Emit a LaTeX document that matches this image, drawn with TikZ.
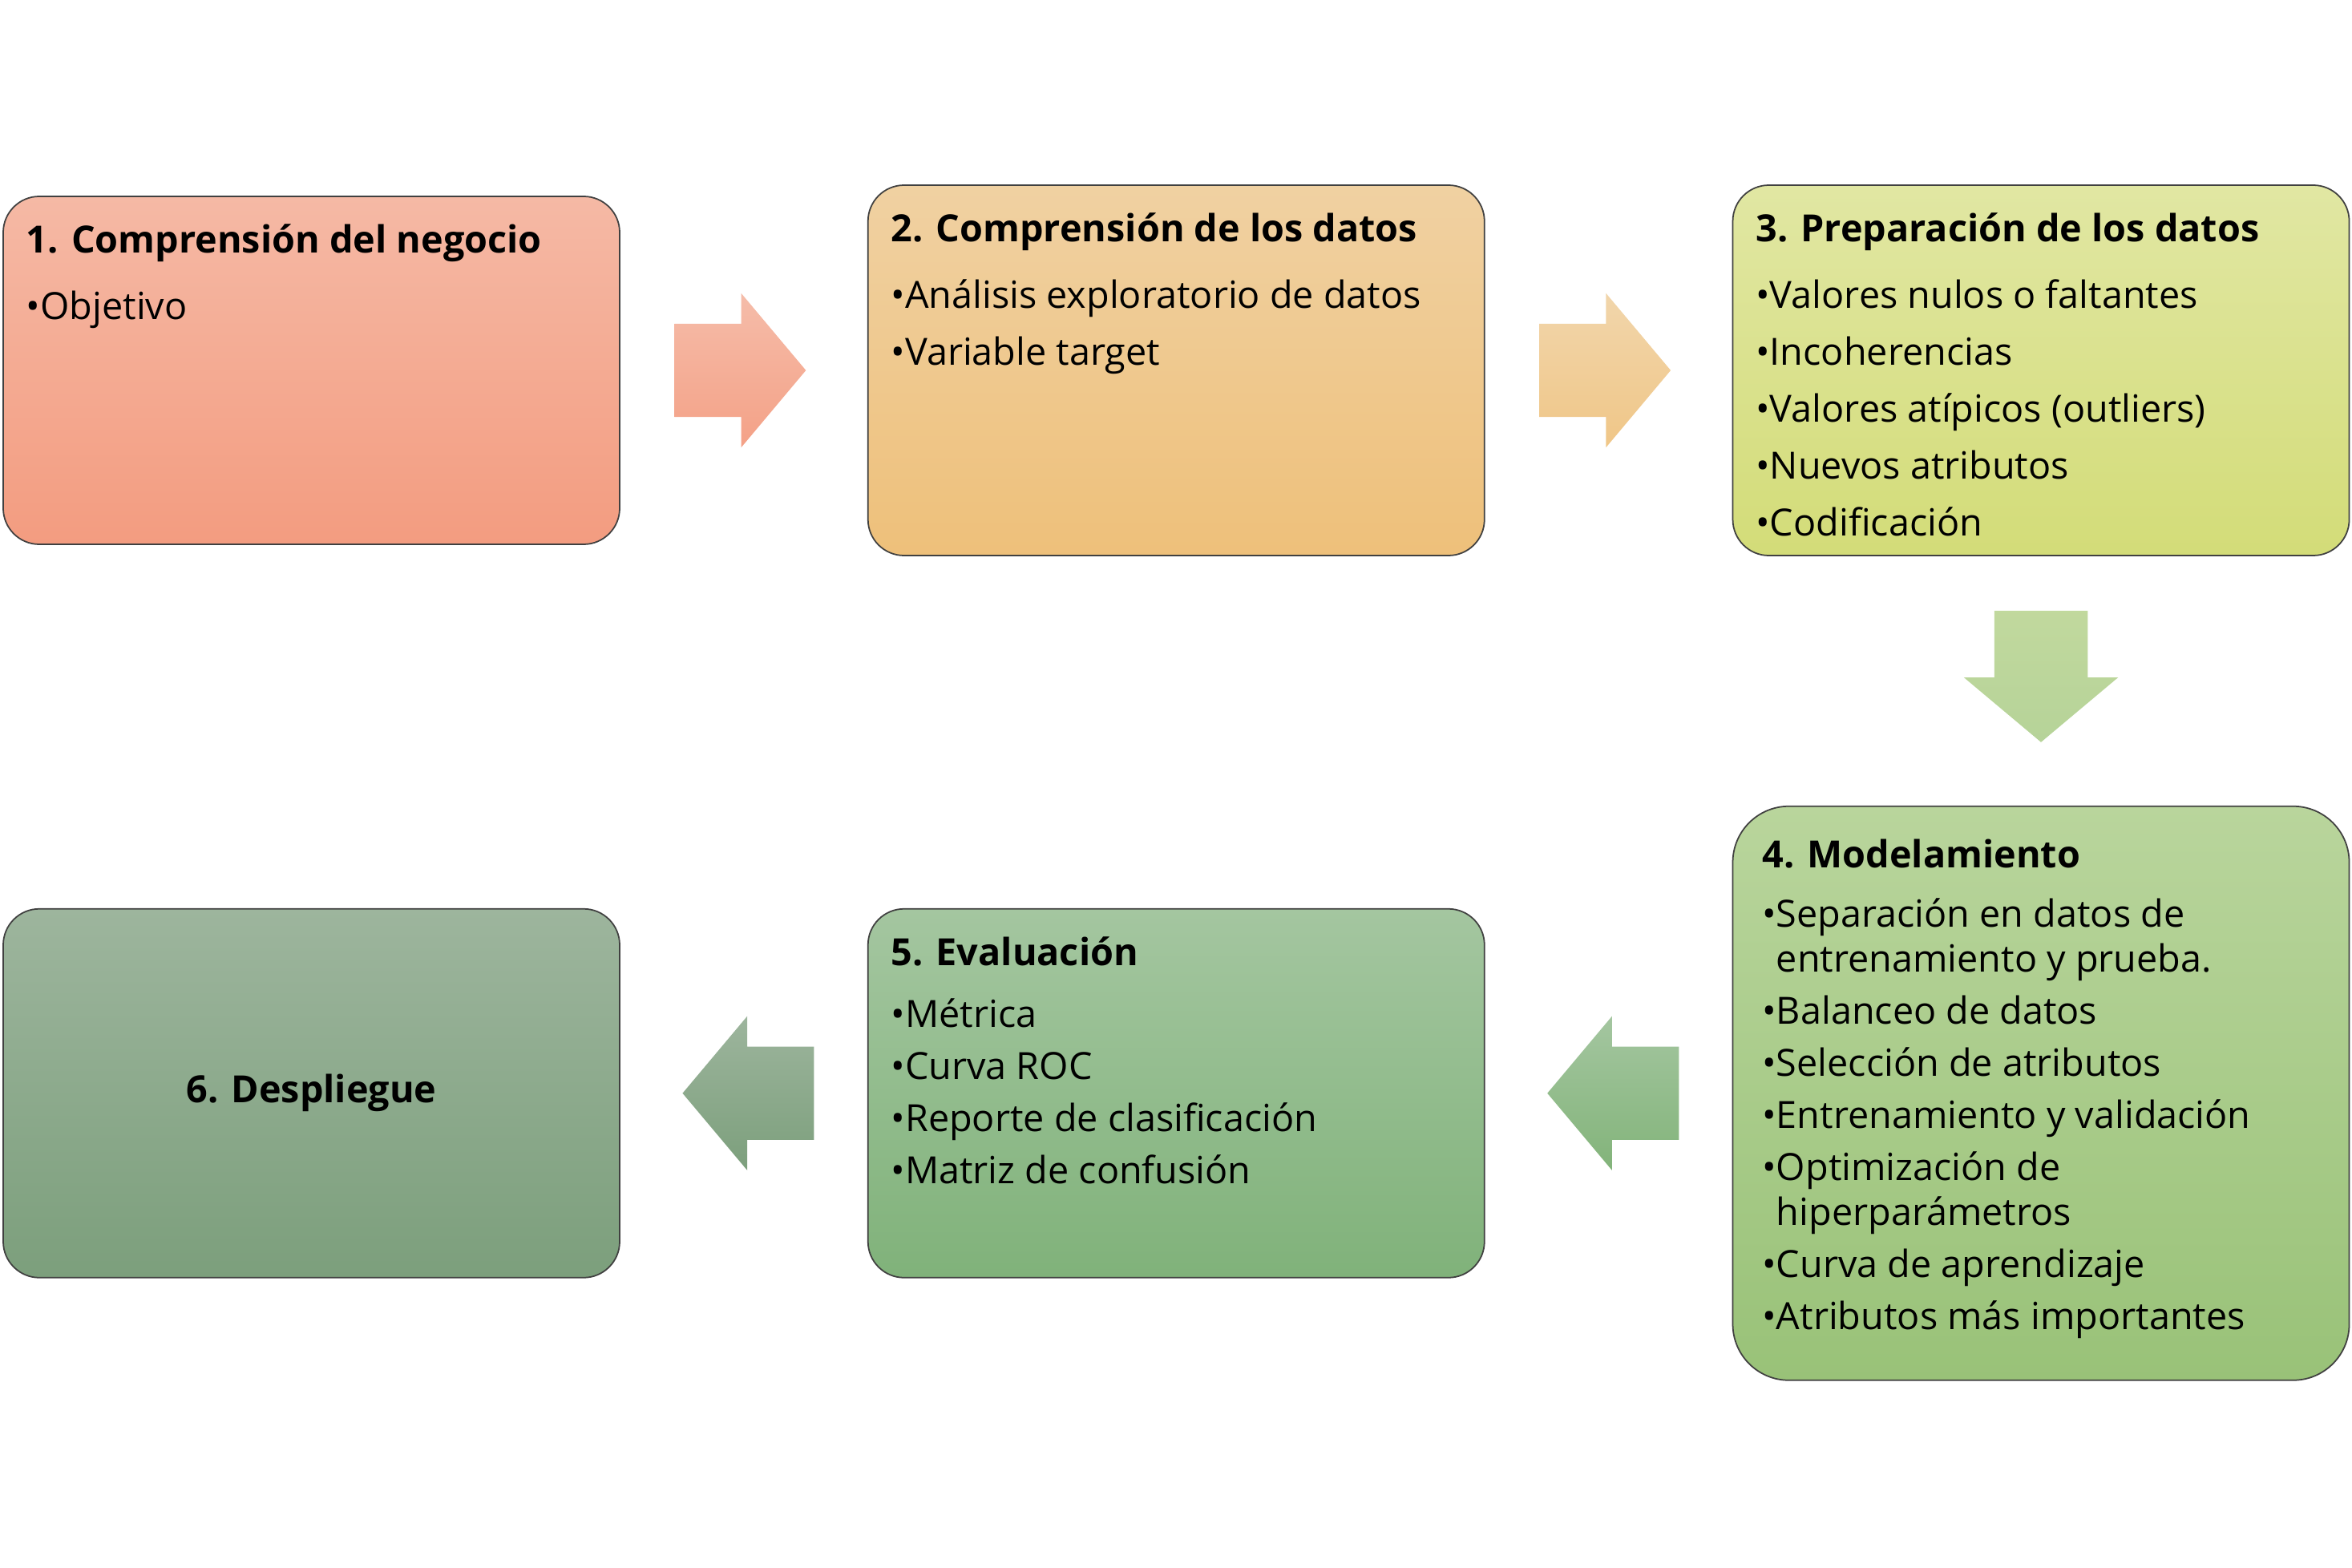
\documentclass[tikz,border=0pt]{standalone}
\usepackage{fontspec}
\setmainfont{Open Sans}
\usetikzlibrary{shapes.arrows, positioning, calc}
\definecolor{negocioA}{HTML}{F5B9A5}
\definecolor{negocioB}{HTML}{F39C80}
\definecolor{datosA}{HTML}{F0D1A2}
\definecolor{datosB}{HTML}{EEC07A}
\definecolor{prepA}{HTML}{E1E7A3}
\definecolor{prepB}{HTML}{D3DC78}
\definecolor{modeloA}{HTML}{B9D59C}
\definecolor{modeloB}{HTML}{99C278}
\definecolor{evalA}{HTML}{A4C6A0}
\definecolor{evalB}{HTML}{80B27A}
\definecolor{desplA}{HTML}{9DB59D}
\definecolor{desplB}{HTML}{7C9F7C}

\begin{document}
\begin{tikzpicture}[node distance=3.08cm]
\tikzstyle{fase} = [rectangle, rounded corners=0.45cm, minimum width=7.69cm, minimum height=4.62cm, draw=black!75, line width=0.5pt, shading=axis, inner sep=0pt]
\tikzstyle{flecha} = [single arrow, minimum height=1.64cm, minimum width=1.90cm, single arrow head extend=0.38cm, single arrow tip angle=100, inner xsep=0pt, inner ysep=0.575cm, shading=axis]
\tikzstyle{lista} = [anchor=north west, inner sep=0pt, align=left, font=\fontsize{13.3}{20.2}\selectfont]

\useasboundingbox[fill=white] (0,0) rectangle (29.34,-19.55);

% Fases
\node (negocio) [fase, minimum height=4.34cm, top color=negocioA, bottom color=negocioB] at (3.885,-4.62) {};
\node (datos) [fase, right=of negocio, top color=datosA, bottom color=datosB] {};
\node (prep) [fase, right=of datos, top color=prepA, bottom color=prepB] {};
\node (modelo) [fase, below=3.11cm of prep, minimum height=7.16cm, rounded corners=0.7cm, top color=modeloA, bottom color=modeloB] {};
\node (eval) [fase, left=of modelo, minimum height=4.60cm, top color=evalA, bottom color=evalB] {};
\node (despl) [fase, left=of eval, minimum height=4.60cm, top color=desplA, bottom color=desplB] {};

% Flechas
\node (flecha1) [flecha, xshift=-0.29cm, top color=negocioA!95!white, bottom color=negocioB!95!white] at ($(negocio.east)!0.5!(datos.west)$) {};
\node (flecha2) [flecha, xshift=-0.29cm, top color=datosA!90!white, bottom color=datosB!90!white] at ($(datos.east)!0.5!(prep.west)$) {};
\node (flecha3) [flecha, shape border rotate=270, yshift=0.30cm, inner xsep=0.575cm, inner ysep=0pt, top color=modeloA!80!prepA, bottom color=modeloA!90!modeloB] at ($(prep.south)!0.5!(modelo.north)$) {};
\node (flecha4) [flecha, shape border rotate=180, xshift=0.30cm, top color=evalA, bottom color=evalB!90!modeloB] at ($(modelo.west)!0.5!(eval.east)$) {};
\node (flecha5) [flecha, shape border rotate=180, xshift=0.30cm, top color=desplA, bottom color=desplB] at ($(eval.west)!0.5!(despl.east)$) {};

% Textos
\node (negociotxt) [lista] at ($(negocio.north west)+(0.29,-0.35)$) {\textbf{1. Comprensión del negocio}\\[3.4pt]
•Objetivo};
\node (datostxt) [lista] at ($(datos.north west)+(0.29,-0.35)$) {\textbf{2. Comprensión de los datos}\\[3.4pt]
•Análisis exploratorio de datos\\
•Variable target};
\node (preptxt) [lista] at ($(prep.north west)+(0.29,-0.35)$) {\textbf{3. Preparación de los datos}\\[3.4pt]
•Valores nulos o faltantes\\
•Incoherencias\\
•Valores atípicos (outliers)\\
•Nuevos atributos\\
•Codificación};
\node (modelotxt) [lista, font=\fontsize{13.3}{15.9}\selectfont] at ($(modelo.north west)+(0.37,-0.41)$) {\textbf{4. Modelamiento}\\[5.4pt]
•Separación en datos de\\
\phantom{•}entrenamiento y prueba.\\[2.6pt]
•Balanceo de datos\\[2.6pt]
•Selección de atributos\\[2.6pt]
•Entrenamiento y validación\\[2.6pt]
•Optimización de\\
\phantom{•}hiperparámetros\\[2.6pt]
•Curva de aprendizaje\\[2.6pt]
•Atributos más importantes};
\node (evaltxt) [lista, font=\fontsize{13.3}{18.5}\selectfont] at ($(eval.north west)+(0.29,-0.35)$) {\textbf{5. Evaluación}\\[3.4pt]
•Métrica\\
•Curva ROC\\
•Reporte de clasificación\\
•Matriz de confusión};
\node (despltxt) [font=\fontsize{13.3}{16}\selectfont\bfseries] at (despl.center) {6. Despliegue};

\end{tikzpicture}
\end{document}
